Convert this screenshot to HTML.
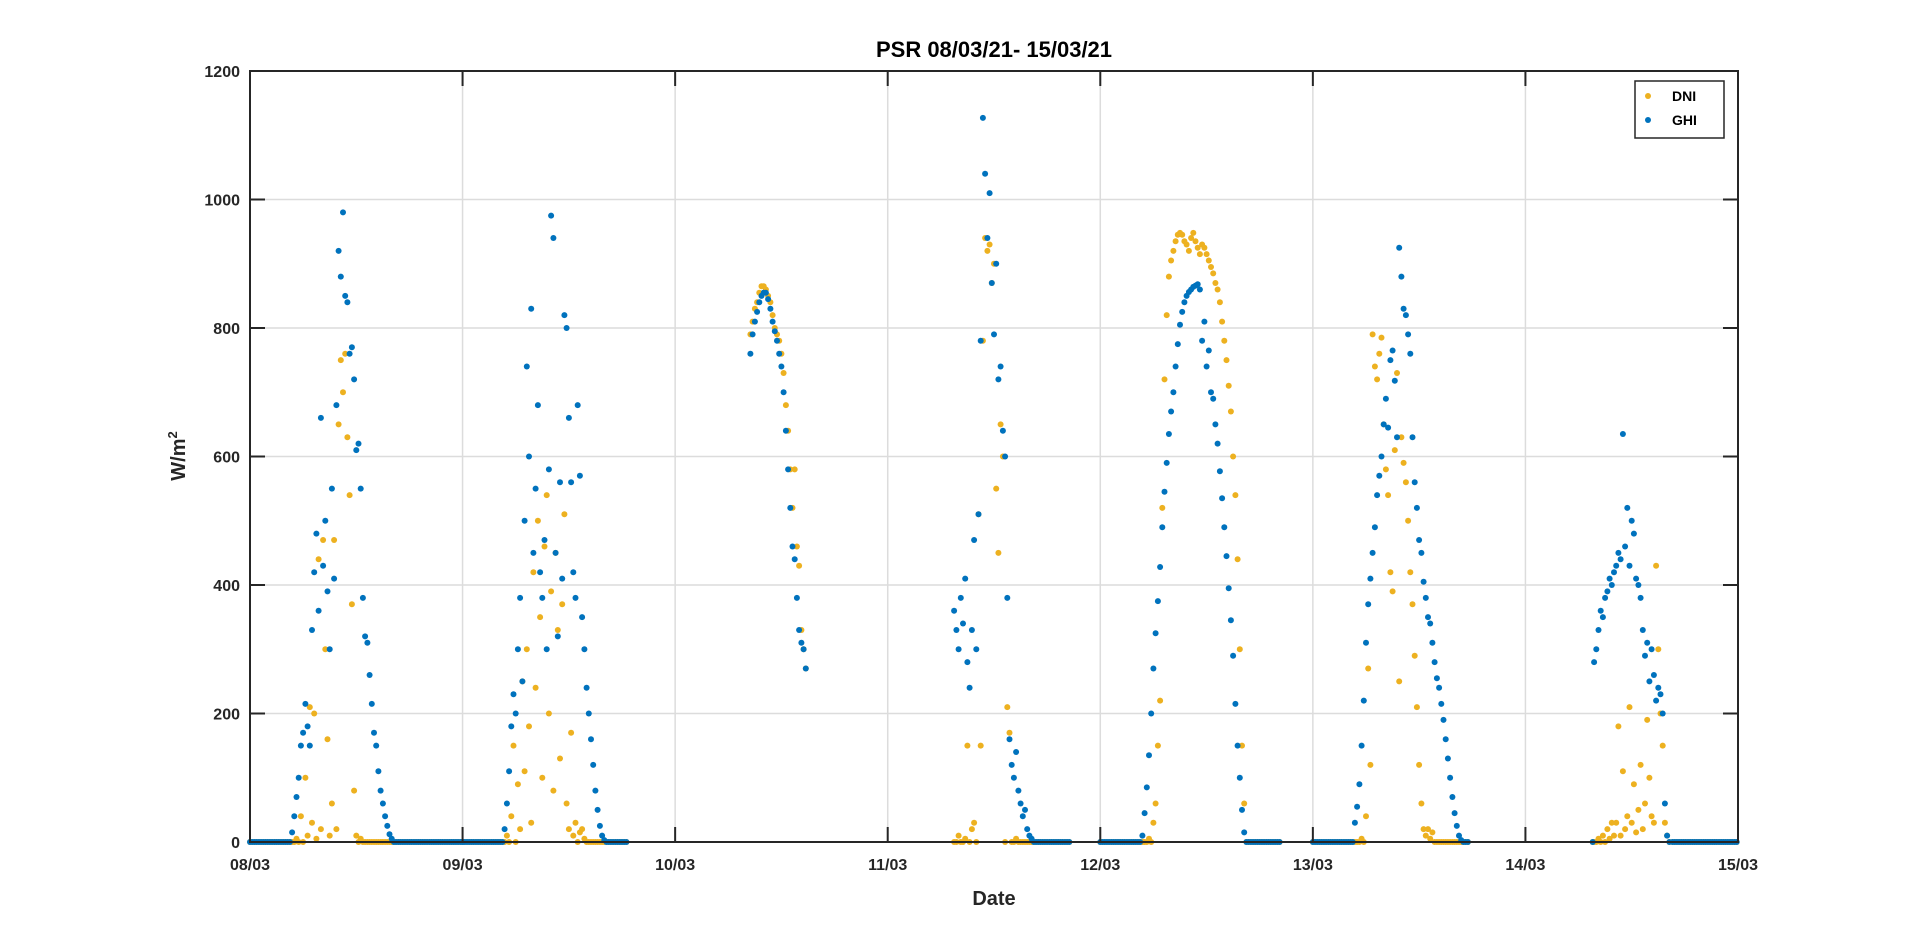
<!DOCTYPE html>
<html><head><meta charset="utf-8"><title>PSR 08/03/21- 15/03/21</title>
<style>html,body{margin:0;padding:0;background:#fff;}svg{display:block;font-family:"Liberation Sans",Arial,sans-serif;}</style>
</head><body>
<svg id="chart" width="1920" height="947" viewBox="0 0 1920 947">
<rect x="0" y="0" width="1920" height="947" fill="#fff"/>
<g id="grid"></g>
<g id="marks"></g>
<g id="axes"></g>
<text x="994" y="57" text-anchor="middle" font-size="22" font-weight="bold" fill="#000">PSR 08/03/21- 15/03/21</text>
<text x="994" y="905" text-anchor="middle" font-size="20" font-weight="bold" fill="#262626">Date</text>
<text transform="translate(185,456) rotate(-90)" text-anchor="middle" font-size="20" font-weight="bold" fill="#262626">W/m<tspan dy="-8" font-size="13">2</tspan></text>
<g>
<rect x="1635" y="81" width="89" height="57" fill="#fff" stroke="#262626" stroke-width="1.5"/>
<circle cx="1648" cy="96" r="3" fill="#EDB120"/>
<text x="1672" y="101" font-size="14" font-weight="bold" fill="#000">DNI</text>
<circle cx="1648" cy="120" r="3" fill="#0072BD"/>
<text x="1672" y="125" font-size="14" font-weight="bold" fill="#000">GHI</text>
</g>
</svg>
<script>
const xTickLabels = ["08/03","09/03","10/03","11/03","12/03","13/03","14/03","15/03"];
const yTicks = [0,200,400,600,800,1000,1200];
// per-day recorded range (hours) where zeros are logged
const dataStart = [0, 0, 8.5, 7.5, 0, 0, 7.6];
const dataEnd   = [24, 18.5, 14.75, 20.7, 20.3, 17.7, 24];
// daylight series start hours (15-min step)
const ghiStart = [4.5, 4.5, 8.5, 7.5, 4.75, 4.75, 7.75];
const dniStart = [4.5, 4.5, 8.5, 7.5, 4.75, 4.75, 7.75];
const ghiDay0 = [0,15,40,70,100,150,170,215,180,150,330,420,480,360,660,430,500,390,300,550,410,680,920,880,980,850,840,760,770,720,610,620,550,380,320,310,260,215,170,150,110,80,60,40,25,12,5,0];
const dniDay0 = [0,0,0,5,0,40,0,100,10,210,30,200,5,440,20,470,300,160,10,60,470,20,650,750,700,760,630,540,370,80,10,0,5,0];
const ghiDay1 = [0,20,60,110,180,230,200,300,380,250,500,740,600,830,450,550,680,420,380,470,300,580,975,940,450,320,560,410,820,800,660,560,420,380,680,570,350,300,240,200,160,120,80,50,25,10,3,0];
const dniDay1 = [0,0,10,0,40,150,0,90,20,250,110,300,180,30,420,240,500,350,100,460,540,200,390,80,450,330,130,370,510,60,20,170,10,30,0,15,20,5,0];
const ghiDay2 = [760,790,810,825,840,850,855,855,845,830,810,795,780,760,740,700,640,580,520,460,440,380,330,310,300,270];
const dniDay2 = [790,810,830,840,855,865,865,860,850,840,820,800,790,780,760,730,680,640,580,520,580,460,430,330,300,270];
const ghiDay3 = [360,330,300,380,340,410,280,240,330,470,300,510,780,1127,1040,940,1010,870,790,900,720,740,640,600,380,160,120,100,140,80,60,40,50,20,10,5,0];
const dniDay3 = [0,0,10,0,0,5,150,0,20,30,0,510,150,780,940,920,930,870,900,550,450,650,600,0,210,170,0,0,5,0,0,0,0,0,0,0,0];
const ghiDay4 = [10,45,85,135,200,270,325,375,428,490,545,590,635,670,700,740,775,805,825,840,850,856,860,864,866,868,860,780,810,740,765,700,690,650,620,577,535,490,445,395,345,290,215,150,100,50,15,0];
const dniDay4 = [0,0,0,5,0,30,60,150,220,520,720,820,880,905,920,935,945,948,945,935,930,920,940,948,935,925,915,930,925,915,905,895,885,870,860,840,810,780,750,710,670,600,540,440,300,150,60,0];
const ghiDay5 = [30,55,90,150,220,310,370,410,450,490,540,570,600,650,690,645,750,765,718,630,925,880,830,820,790,760,630,560,520,470,450,405,380,350,340,310,280,255,240,215,190,160,130,100,70,45,25,10,3,0];
const dniDay5 = [0,0,0,5,0,40,270,120,790,740,720,760,785,650,580,540,420,390,610,730,250,630,590,560,500,420,370,290,210,120,60,20,10,20,5,15,0];
const ghiDay6 = [280,300,330,360,350,380,390,410,400,420,430,450,440,635,460,520,430,500,480,410,400,380,330,290,310,250,300,260,220,240,230,200,60,10,0];
const dniDay6 = [0,0,5,0,10,0,20,5,30,10,30,180,10,110,20,40,210,30,90,15,50,120,20,60,190,100,40,30,430,300,200,150,30,10,0];
const ghiSeries = [ghiDay0, ghiDay1, ghiDay2, ghiDay3, ghiDay4, ghiDay5, ghiDay6];
const dniSeries = [dniDay0, dniDay1, dniDay2, dniDay3, dniDay4, dniDay5, dniDay6];

const NS = "http://www.w3.org/2000/svg";
const L = 250, R = 1738, T = 71, B = 842;
const nDays = 7, yMax = 1200, STEP = 0.25;
function xScale(day, hour){ return L + (day + hour/24) * (R - L) / nDays; }
function yScale(v){ return B - v / yMax * (B - T); }
function mk(tag, attrs, parent){ const e = document.createElementNS(NS, tag); for (const k in attrs) e.setAttribute(k, attrs[k]); parent.appendChild(e); return e; }

const grid = document.getElementById('grid');
const axes = document.getElementById('axes');
const marks = document.getElementById('marks');

xTickLabels.forEach((lab, i) => {
  const x = xScale(i, 0);
  if (i > 0 && i < xTickLabels.length - 1) {
    const g = mk('line', {x1:x, x2:x, y1:T, y2:B, stroke:'#dcdcdc', 'stroke-width':1.5}, grid);
    
    
  }
  const t1 = mk('line', {x1:x, x2:x, y1:B, y2:B-15, stroke:'#262626', 'stroke-width':2}, axes);
  
  
  const t2 = mk('line', {x1:x, x2:x, y1:T, y2:T+15, stroke:'#262626', 'stroke-width':2}, axes);
  
  
  const tx = mk('text', {x:x, y:870, 'text-anchor':'middle', 'font-size':16, 'font-weight':'bold', fill:'#262626'}, axes);
  tx.textContent = lab;
  
  
});
yTicks.forEach(v => {
  const y = yScale(v);
  if (v > 0 && v < yMax) {
    const g = mk('line', {x1:L, x2:R, y1:y, y2:y, stroke:'#dcdcdc', 'stroke-width':1.5}, grid);
    
    
  }
  const t1 = mk('line', {x1:L, x2:L+15, y1:y, y2:y, stroke:'#262626', 'stroke-width':2}, axes);
  
  
  const t2 = mk('line', {x1:R, x2:R-15, y1:y, y2:y, stroke:'#262626', 'stroke-width':2}, axes);
  
  
  const tx = mk('text', {x:L-10, y:y+6, 'text-anchor':'end', 'font-size':16, 'font-weight':'bold', fill:'#262626'}, axes);
  tx.textContent = v;
  
  
});
const frame = mk('rect', {x:L, y:T, width:R-L, height:B-T, fill:'none', stroke:'#262626', 'stroke-width':2}, axes);



function drawSeries(series, starts, color, name){
  const g = mk('g', {fill:color}, marks);
  
  
  for (let d = 0; d < nDays; d++) {
    const arr = series[d], s = starts[d];
    const e = s + arr.length * STEP;
    for (let h = dataStart[d]; h <= dataEnd[d] + 1e-9; h += STEP) {
      if (h >= s - 1e-9 && h < e - 1e-9) continue;
      const c = mk('circle', {cx:xScale(d, h).toFixed(1), cy:yScale(0).toFixed(1), r:3}, g);
      
      
    }
    arr.forEach((v, i) => {
      const c = mk('circle', {cx:xScale(d, s + i*STEP).toFixed(1), cy:yScale(v).toFixed(1), r:3}, g);
      
      
    });
  }
}
drawSeries(dniSeries, dniStart, '#EDB120', 'dni');
drawSeries(ghiSeries, ghiStart, '#0072BD', 'ghi');
</script>
</body></html>
